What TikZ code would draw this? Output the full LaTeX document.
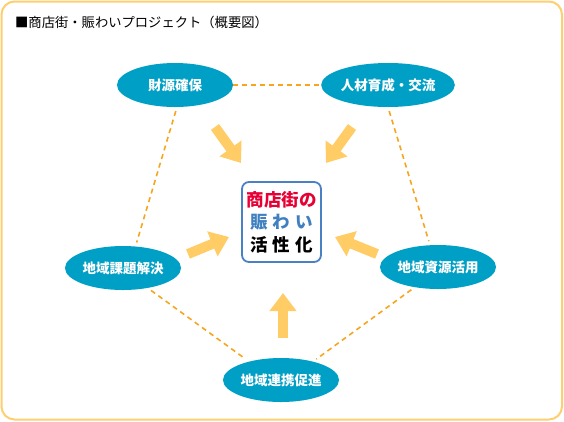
\documentclass[tikz,border=0pt]{standalone}
\usepackage{fontspec}
\usetikzlibrary{shapes.geometric,arrows.meta}
\newfontfamily\jp{Noto Sans CJK JP}
\definecolor{ellfill}{HTML}{00A0C6}
\definecolor{framecol}{HTML}{FDCF70}
\definecolor{dashcol}{HTML}{F7A51E}
\definecolor{arrcol}{HTML}{FFCC66}
\definecolor{boxblue}{HTML}{4A80C4}
\definecolor{txtred}{HTML}{E60033}
\definecolor{txtblue}{HTML}{3F80C0}
\tikzset{
  oval/.style={ellipse, fill=ellfill, draw=none, minimum width=116pt, minimum height=44pt, inner sep=0pt,
    text=white, font=\jp\bfseries\fontsize{13.5}{15}\selectfont},
  dashline/.style={draw=dashcol, line width=1.6pt, dash pattern=on 5pt off 4pt},
  bigarrow/.style={draw=arrcol, line width=10pt, -{Triangle[width=26pt,length=18pt]}},
  centerbox/.style={draw=boxblue, line width=1.8pt, rounded corners=7pt, fill=white,
    minimum width=79pt, minimum height=80pt, inner sep=0pt, align=center,
    font=\jp\bfseries\fontsize{17.5}{22.5}\selectfont}
}
\begin{document}
\begin{tikzpicture}[x=1pt,y=-1pt]
\useasboundingbox (0,0) rectangle (564,421);
\draw[framecol, line width=2pt, rounded corners=13pt] (1.5,1.5) rectangle (562,419.5);
\node[anchor=west, font=\jp\fontsize{13.3}{15}\selectfont, inner sep=0pt] (title) at (15,22) {■商店街・賑わいプロジェクト（概要図）};

\node[oval] (zaigen) at (175,85) {財源確保};
\node[oval] (jinzai) at (388,85) {人材育成・交流};
\node[oval] (kadai) at (123,268) {地域課題解決};
\node[oval] (shigen) at (438,267) {地域資源活用};
\node[oval] (renkei) at (281,380) {地域連携促進};

\node[centerbox] (center) at (281.5,222) {\textcolor{txtred}{商店街の}\\\textcolor{txtblue}{賑\hspace{5pt}わ\hspace{5pt}い}\\活\hspace{5pt}性\hspace{5pt}化};

\draw[dashline] (zaigen.east) -- (jinzai.west);
\draw[dashline, shorten <=4pt, shorten >=4pt] (zaigen.-85) -- (kadai.60);
\draw[dashline, shorten <=4pt, shorten >=4pt] (jinzai.-90) -- (shigen.110);
\draw[dashline, shorten <=4pt, shorten >=4pt] (kadai.-39) -- (renkei.150);
\draw[dashline, shorten <=4pt, shorten >=4pt] (shigen.-139) -- (renkei.30);

\coordinate (a1s) at (215,127); \coordinate (a1e) at (241,163);
\coordinate (a2s) at (352,127); \coordinate (a2e) at (326,163);
\coordinate (a3s) at (188,254); \coordinate (a3e) at (229,237);
\coordinate (a4s) at (377,254); \coordinate (a4e) at (335,237);
\coordinate (a5s) at (283,338); \coordinate (a5e) at (283,293);
\draw[bigarrow] (a1s) -- (a1e);
\draw[bigarrow] (a2s) -- (a2e);
\draw[bigarrow] (a3s) -- (a3e);
\draw[bigarrow] (a4s) -- (a4e);
\draw[bigarrow] (a5s) -- (a5e);
\end{tikzpicture}
\end{document}
